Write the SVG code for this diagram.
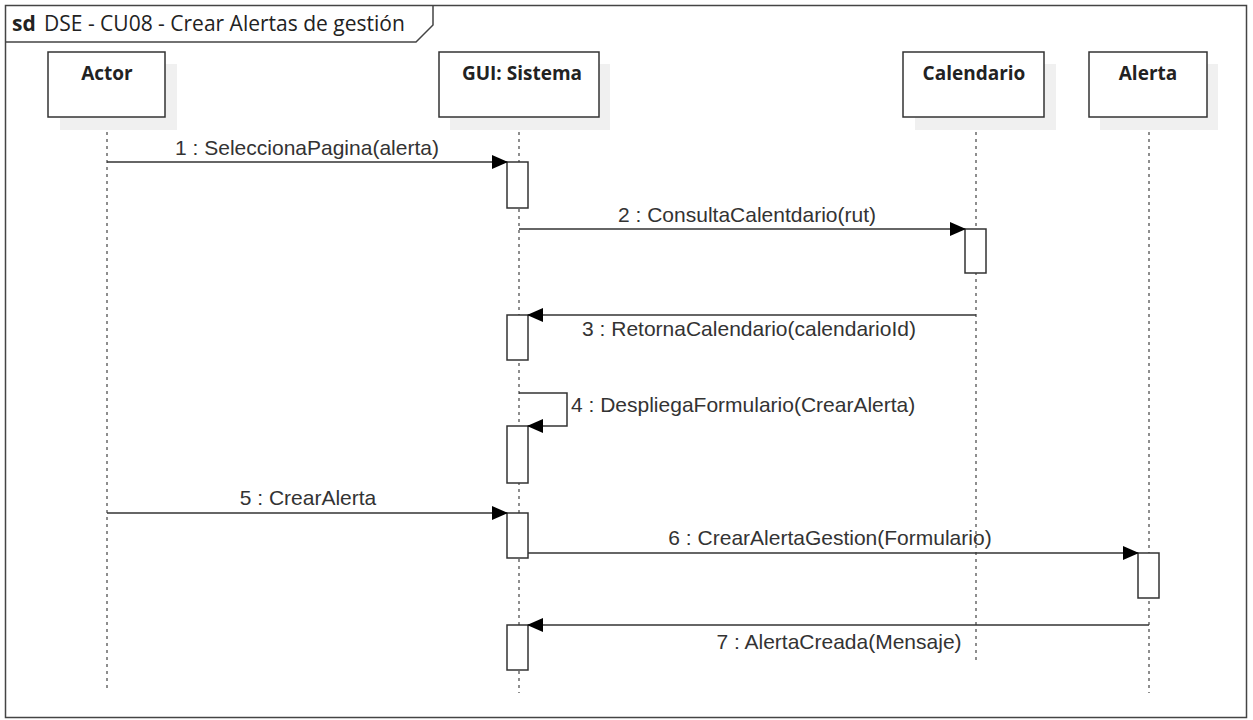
<svg xmlns="http://www.w3.org/2000/svg" width="1253" height="720" viewBox="0 0 1253 720">
<defs>
<marker id="ah" markerWidth="16" markerHeight="14" refX="15" refY="7" orient="auto" markerUnits="userSpaceOnUse">
<path d="M0,0 L16,7 L0,14 Z" fill="#000"/>
</marker>
<style>
.box{fill:#fff;stroke:#333;stroke-width:1.5}
.shadow{fill:#f0f0f0}
.hdr{font-family:"Open Sans","Liberation Sans",Arial,sans-serif;font-weight:bold;font-size:19px;fill:#222;text-anchor:middle}
.life{stroke:#444;stroke-width:1.2;stroke-dasharray:3,4;fill:none}
.act{fill:#fff;stroke:#333;stroke-width:1.5}
.msg{stroke:#333;stroke-width:1.5;fill:none;marker-end:url(#ah)}
.lbl{font-family:"Liberation Sans",Arial,sans-serif;font-size:21px;fill:#333;text-anchor:middle}
.ttl{font-family:"Open Sans","Liberation Sans",Arial,sans-serif;font-size:21px;fill:#222}
</style>
</defs>
<rect width="1253" height="720" fill="#fff"/>
<g id="frame">
<rect x="5.5" y="5.5" width="1241" height="712" fill="none" stroke="#444" stroke-width="1.5"/>
<path d="M5.5,42 L416,42 L433,25 L433,5.5" fill="none" stroke="#444" stroke-width="1.5"/>
<text class="ttl" x="12" y="31" font-weight="bold" font-size="19">sd</text>
<text class="ttl" x="44" y="31">DSE - CU08 - Crear Alertas de gestión</text>
</g>
<g id="lifelines">
<line class="life" x1="107" y1="118" x2="107" y2="688"/>
<line class="life" x1="519" y1="118" x2="519" y2="693"/>
<line class="life" x1="976" y1="118" x2="976" y2="663"/>
<line class="life" x1="1149" y1="118" x2="1149" y2="693"/>
</g>
<g id="actor">
<rect class="shadow" x="60" y="64" width="117" height="66"/>
<rect class="box" x="48" y="52" width="117" height="65"/>
<text class="hdr" x="107" y="80">Actor</text>
</g>
<g id="gui">
<rect class="shadow" x="450" y="64" width="160" height="66"/>
<rect class="box" x="439" y="52" width="160" height="65"/>
<text class="hdr" x="522" y="80">GUI: Sistema</text>
</g>
<g id="calendario">
<rect class="shadow" x="915" y="64" width="141" height="66"/>
<rect class="box" x="903" y="52" width="141" height="65"/>
<text class="hdr" x="974" y="80">Calendario</text>
</g>
<g id="alerta">
<rect class="shadow" x="1100" y="64" width="118" height="66"/>
<rect class="box" x="1089" y="52" width="118" height="65"/>
<text class="hdr" x="1148" y="80">Alerta</text>
</g>
<g id="activations">
<rect class="act" x="507" y="162" width="21" height="46"/>
<rect class="act" x="965" y="229" width="21" height="44"/>
<rect class="act" x="507" y="315" width="21" height="45"/>
<rect class="act" x="507" y="426" width="21" height="57"/>
<rect class="act" x="507" y="513" width="21" height="45"/>
<rect class="act" x="1138" y="553" width="21" height="45"/>
<rect class="act" x="507" y="625" width="21" height="45"/>
</g>
<g id="connectors">
<line class="msg" x1="107" y1="162" x2="507" y2="162"/>
<line class="msg" x1="519" y1="229" x2="965" y2="229"/>
<line class="msg" x1="976" y1="315" x2="528" y2="315"/>
<path class="msg" d="M519,393 L567,393 L567,426 L528,426"/>
<line class="msg" x1="107" y1="513" x2="507" y2="513"/>
<line class="msg" x1="528" y1="553" x2="1138" y2="553"/>
<line class="msg" x1="1149" y1="625" x2="528" y2="625"/>
</g>
<g id="labels">
<text class="lbl" x="307" y="155">1 : SeleccionaPagina(alerta)</text>
<text class="lbl" x="747" y="222">2 : ConsultaCalentdario(rut)</text>
<text class="lbl" x="749" y="336">3 : RetornaCalendario(calendarioId)</text>
<text class="lbl" x="571" y="412" style="text-anchor:start">4 : DespliegaFormulario(CrearAlerta)</text>
<text class="lbl" x="308" y="505">5 : CrearAlerta</text>
<text class="lbl" x="830" y="545">6 : CrearAlertaGestion(Formulario)</text>
<text class="lbl" x="839" y="649">7 : AlertaCreada(Mensaje)</text>
</g>
</svg>
